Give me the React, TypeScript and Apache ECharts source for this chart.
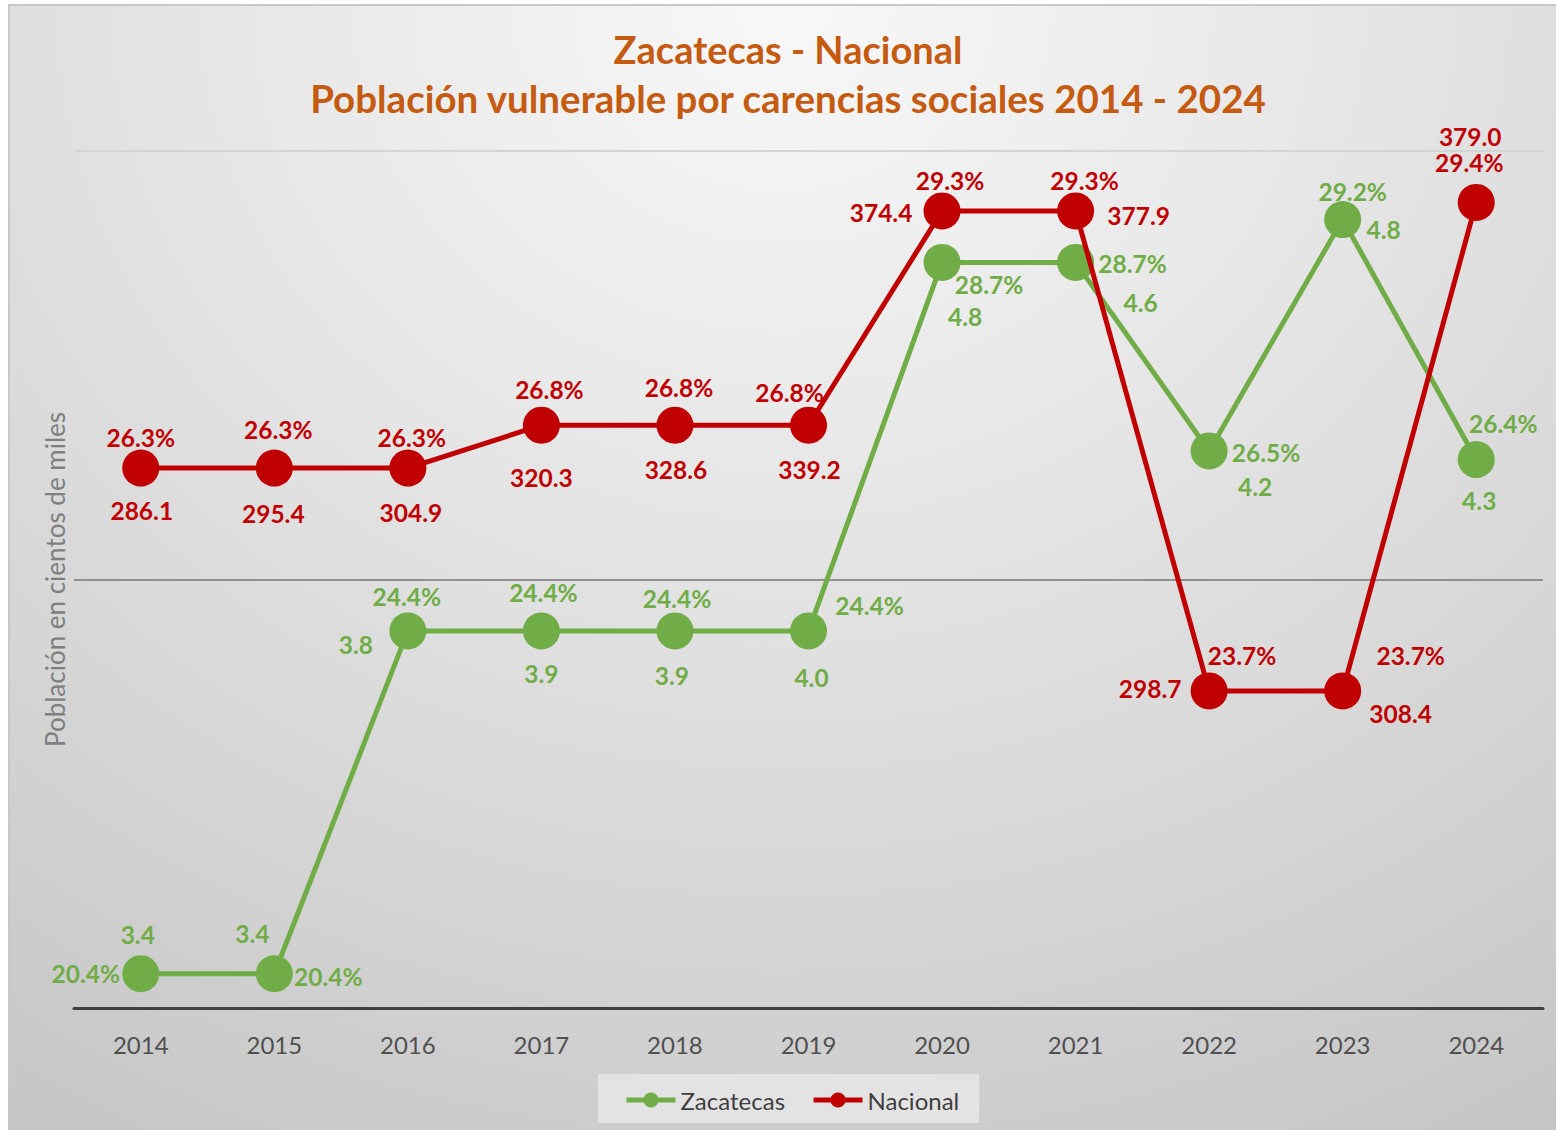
import React, { useEffect, useRef } from "react";
import * as echarts from "echarts";

const years = ["2014", "2015", "2016", "2017", "2018", "2019", "2020", "2021", "2022", "2023", "2024"];
const zacPct = [20.4, 20.4, 24.4, 24.4, 24.4, 24.4, 28.7, 28.7, 26.5, 29.2, 26.4];
const zacVal = [3.4, 3.4, 3.8, 3.9, 3.9, 4.0, 4.8, 4.6, 4.2, 4.8, 4.3];
const natPct = [26.3, 26.3, 26.3, 26.8, 26.8, 26.8, 29.3, 29.3, 23.7, 23.7, 29.4];
const natVal = [286.1, 295.4, 304.9, 320.3, 328.6, 339.2, 374.4, 377.9, 298.7, 308.4, 379.0];

// label placement (layout only)
const natPctOffset = [[0, -31], [4, -39], [4, -31], [8, -36], [4, -38], [-19, -33], [8, -30], [9, -30], [33, -35], [68, -35], [-7, -40]];
const natValOffset = [[1, 42], [-1, 45], [3, 44], [0, 52], [1, 44], [1, 44], [-61, 2], [63, 5], [-59, -2], [58, 23], [-6, -66]];
const zacPctOffset = [[-55, 0], [54, 3], [-1, -34], [2, -38], [2, -32], [61, -25], [47, 22], [57, 1], [57, 2], [10, -28], [27, -36]];
const zacValOffset = [[-3, -39], [-22, -40], [-52, 14], [0, 43], [-3, 45], [3, 47], [23, 54], [65, 40], [46, 36], [41, 10], [3, 41]];

const GREEN = "#70AD47";
const RED = "#C00000";
const FONT = "Lato, 'Noto Sans', sans-serif";

export default function App() {
  const ref = useRef<HTMLDivElement>(null);
  useEffect(() => {
    const chart = echarts.init(ref.current as HTMLDivElement, null, { renderer: "svg" });
    const labelBase = {
      show: true,
      position: "inside",
      fontFamily: FONT,
      fontWeight: "bold",
      fontSize: 24.5,
      textBorderWidth: 0,
    };
    const mainSeries = (name: string, color: string, pct: number[], off: number[][], z: number) => ({
      name,
      type: "line",
      data: pct.map((v, i) => ({ value: v, label: { offset: off[i] } })),
      symbol: "circle",
      symbolSize: 37,
      itemStyle: { color },
      lineStyle: { color, width: 5 },
      label: { ...labelBase, color, formatter: (p: any) => pct[p.dataIndex].toFixed(1) + "%" },
      z,
      emphasis: { disabled: true },
    });
    const valueSeries = (name: string, color: string, pct: number[], vals: number[], off: number[][]) => ({
      name,
      type: "line",
      data: pct.map((v, i) => ({ value: v, label: { offset: off[i] } })),
      symbol: "circle",
      symbolSize: 1,
      itemStyle: { color: "rgba(0,0,0,0)" },
      lineStyle: { width: 0, opacity: 0 },
      label: { ...labelBase, color, formatter: (p: any) => vals[p.dataIndex].toFixed(1) },
      z: 6,
      silent: true,
      emphasis: { disabled: true },
    });
    chart.setOption({
      animation: false,
      backgroundColor: "transparent",
      textStyle: { fontFamily: FONT },
      graphic: [
        {
          type: "text",
          x: 788,
          y: 49,
          style: { text: "Zacatecas - Nacional", font: `bold 38px ${FONT}`, fill: "#C55A11", align: "center", verticalAlign: "middle" },
        },
        {
          type: "text",
          x: 788,
          y: 98,
          style: {
            text: "Población vulnerable por carencias sociales 2014 - 2024",
            font: `bold 38.5px ${FONT}`,
            fill: "#C55A11",
            align: "center",
            verticalAlign: "middle",
          },
        },
      ],
      grid: { left: 74, right: 13, top: 151, bottom: 122, containLabel: false },
      legend: {
        data: [
          { name: "Zacatecas", lineStyle: { width: 5 } },
          { name: "Nacional", lineStyle: { width: 5 } },
        ],
        left: 598,
        top: 1074,
        padding: [14, 20, 11, 26],
        itemWidth: 49,
        itemHeight: 19,
        itemGap: 26,
        backgroundColor: "#E3E3E3",
        lineStyle: { width: 5 },
        textStyle: { fontSize: 24, color: "#404040", fontFamily: FONT },
      },
      xAxis: {
        type: "category",
        data: years,
        boundaryGap: true,
        axisLine: { lineStyle: { color: "#404040", width: 3 } },
        axisTick: { show: false },
        axisLabel: { fontSize: 24, color: "#505050", margin: 24, fontFamily: FONT },
        splitLine: { show: false },
      },
      yAxis: {
        type: "value",
        min: 20,
        max: 30,
        interval: 5,
        name: "Población en cientos de miles",
        nameLocation: "middle",
        nameRotate: 90,
        nameGap: 6,
        nameTextStyle: { fontSize: 26, color: "#7F7F7F", fontFamily: FONT },
        axisLabel: { show: false },
        axisLine: { show: false },
        axisTick: { show: false },
        splitLine: { lineStyle: { color: ["rgba(0,0,0,0)", "#909090", "#D4D4D4"], width: 2 } },
      },
      series: [
        mainSeries("Zacatecas", GREEN, zacPct, zacPctOffset, 3),
        mainSeries("Nacional", RED, natPct, natPctOffset, 4),
        valueSeries("Zacatecas (cientos de miles)", GREEN, zacPct, zacVal, zacValOffset),
        valueSeries("Nacional (cientos de miles)", RED, natPct, natVal, natValOffset),
      ],
    });
    return () => chart.dispose();
  }, []);
  return (
    <div style={{ position: "fixed", left: 0, top: 0, width: 1556, height: 1130, background: "#ffffff", overflow: "hidden" }}>
      <div
        style={{
          position: "absolute",
          left: 8,
          top: 4,
          width: 1548,
          height: 1126,
          boxSizing: "border-box",
          borderLeft: "2px solid #c8c8c8",
          borderTop: "2px solid #c8c8c8",
          background: "radial-gradient(ellipse 95% 115% at 50% 0%, #f8f8f8 0%, #e8e8e8 35%, #d6d6d6 70%, #c6c6c6 100%)",
        }}
      />
      <div ref={ref} style={{ position: "absolute", left: 0, top: 0, width: 1556, height: 1130 }} />
    </div>
  );
}
